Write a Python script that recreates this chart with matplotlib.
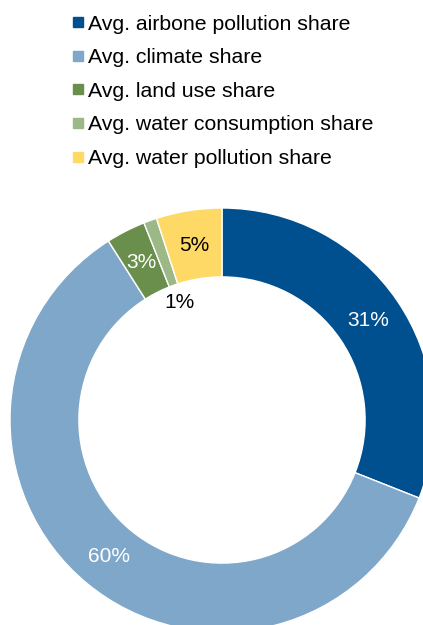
import matplotlib.pyplot as plt
from matplotlib.lines import Line2D

plt.rcParams['font.family'] = ['Liberation Sans', 'DejaVu Sans']

labels = ['Avg. airbone pollution share', 'Avg. climate share', 'Avg. land use share',
          'Avg. water consumption share', 'Avg. water pollution share']
shares = [31, 60, 3, 1, 5]
colors = ['#004F8F', '#7FA7CA', '#6A8F4C', '#9BB886', '#FFD966']
text_colors = ['white', 'white', 'white', 'black', 'black']

fig = plt.figure(figsize=(4.23, 6.25), dpi=100)
ax = fig.add_axes([10 / 423, -7 / 625, 424 / 423, 424 / 625])

wedges, texts, autotexts = ax.pie(
    shares, colors=colors, startangle=90, counterclock=False,
    radius=1.0, autopct='%d%%', pctdistance=0.835,
    wedgeprops=dict(width=0.325, edgecolor='white', linewidth=1),
    textprops=dict(fontsize=15))
for t, c in zip(autotexts, text_colors):
    t.set_color(c)
# the 1% label sits inside the hole
x, y = autotexts[3].get_position()
autotexts[3].set_position((x * 0.59 / 0.835, y * 0.59 / 0.835))

ax.set_xlim(-1, 1)
ax.set_ylim(-1, 1)
ax.set_aspect('equal')
ax.axis('off')

handles = [Line2D([], [], marker='s', linestyle='', markersize=7.2, color=c) for c in colors]
fig.legend(handles, labels, loc='upper left', bbox_to_anchor=(64 / 423, 1 - 6 / 625),
           frameon=False, fontsize=15.3, handlelength=0.5, handletextpad=0.25,
           labelspacing=0.69, borderaxespad=0)

fig.savefig('out.png', dpi=100)
